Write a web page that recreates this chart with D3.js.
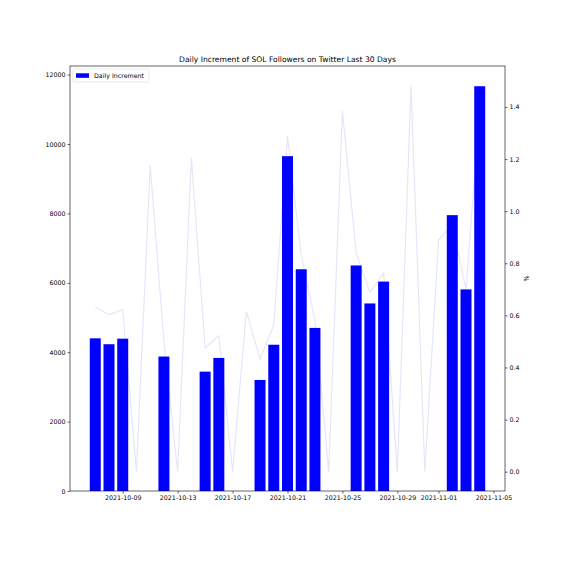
<!DOCTYPE html>
<html>
<head>
<meta charset="utf-8">
<script src="https://cdn.jsdelivr.net/npm/d3@7"></script>
<style>
	body {
		margin: 0;
		background: #fff;
	}
	text {
		font-family: 'DejaVu Sans', sans-serif;
		fill: #000;
	}
</style>
</head>
<body>
<div id="chart"></div>
<script>
const dates = [
	'2021-10-07', '2021-10-08', '2021-10-09', '2021-10-10', '2021-10-11',
	'2021-10-12', '2021-10-13', '2021-10-14', '2021-10-15', '2021-10-16',
	'2021-10-17', '2021-10-18', '2021-10-19', '2021-10-20', '2021-10-21',
	'2021-10-22', '2021-10-23', '2021-10-24', '2021-10-25', '2021-10-26',
	'2021-10-27', '2021-10-28', '2021-10-29', '2021-10-30', '2021-10-31',
	'2021-11-01', '2021-11-02', '2021-11-03', '2021-11-04'
]

const increments = [
	4400, 4230, 4390, 0, 0,
	3875, 0, 0, 3440, 3835,
	0, 0, 3200, 4215, 9650,
	6390, 4700, 0, 0, 6500,
	5405, 6035, 0, 0, 0,
	0, 7950, 5810, 11665
]

const percents = [
	0.632, 0.603, 0.622, 0, 1.175,
	0.5, 0, 1.204, 0.475, 0.522,
	0, 0.615, 0.432, 0.564, 1.288,
	0.83, 0.58, 0, 1.385, 0.84,
	0.688, 0.763, 0, 1.483, 0,
	0.888, 0.95, 0.7, 1.4
]

const xTicks = [
	'2021-10-09', '2021-10-13', '2021-10-17', '2021-10-21',
	'2021-10-25', '2021-10-29', '2021-11-01', '2021-11-05'
]
const leftTicks = [0, 2000, 4000, 6000, 8000, 10000, 12000]
const rightTicks = [0, 0.2, 0.4, 0.6, 0.8, 1.0, 1.2, 1.4]

const parseDate = d3.utcParse('%Y-%m-%d')
const DAY = 864e5

const data = dates.map((d, i) => ({
	date: parseDate(d),
	value: increments[i],
	pct: percents[i]
}))

const width = 561,
	height = 561
const margin = { top: 66, right: 56, bottom: 70, left: 70 }

const svg = d3
	.select('#chart')
	.append('svg')
	.attr('width', width)
	.attr('height', height)

// matplotlib style 5% padding around bars
const first = data[0].date.getTime() - 0.4 * DAY
const last = data[data.length - 1].date.getTime() + 0.4 * DAY
const pad = (last - first) * 0.05

const x = d3
	.scaleUtc()
	.domain([new Date(first - pad), new Date(last + pad)])
	.range([margin.left, width - margin.right])

const y = d3
	.scaleLinear()
	.domain([0, d3.max(increments) * 1.05])
	.range([height - margin.bottom, margin.top])

const pMin = d3.min(percents),
	pMax = d3.max(percents)
const pPad = (pMax - pMin) * 0.05
const y2 = d3
	.scaleLinear()
	.domain([pMin - pPad, pMax + pPad])
	.range([height - margin.bottom, margin.top])

const barW = x(new Date(data[0].date.getTime() + 0.8 * DAY)) - x(data[0].date)

// percent line sits behind the bars
const line = d3
	.line()
	.x(d => x(d.date))
	.y(d => y2(d.pct))

svg.append('path')
	.datum(data)
	.attr('d', line)
	.attr('fill', 'none')
	.attr('stroke', '#e6e6fa')
	.attr('stroke-width', 1.2)

svg.append('g')
	.selectAll('rect')
	.data(data.filter(d => d.value > 0))
	.enter()
	.append('rect')
	.attr('x', d => x(d.date) - barW / 2)
	.attr('y', d => y(d.value))
	.attr('width', barW)
	.attr('height', d => y(0) - y(d.value))
	.attr('fill', 'blue')

const xAxis = svg
	.append('g')
	.attr('transform', `translate(0,${height - margin.bottom})`)
	.call(
		d3
			.axisBottom(x)
			.tickValues(xTicks.map(parseDate))
			.tickFormat(d3.utcFormat('%Y-%m-%d'))
			.tickSizeOuter(0)
			.tickSize(2.5)
			.tickPadding(2)
	)

const yAxis = svg
	.append('g')
	.attr('transform', `translate(${margin.left},0)`)
	.call(
		d3
			.axisLeft(y)
			.tickValues(leftTicks)
			.tickFormat(d3.format('d'))
			.tickSizeOuter(0)
			.tickSize(2.5)
			.tickPadding(2)
	)

const y2Axis = svg
	.append('g')
	.attr('transform', `translate(${width - margin.right},0)`)
	.call(
		d3
			.axisRight(y2)
			.tickValues(rightTicks)
			.tickFormat(d3.format('.1f'))
			.tickSizeOuter(0)
			.tickSize(2.5)
			.tickPadding(2)
	)

;[xAxis, yAxis, y2Axis].forEach(g => {
	g.select('.domain').remove()
	g.selectAll('line').attr('stroke', '#000').attr('stroke-width', 0.6)
	g.selectAll('text').style('font-size', '6.3px').attr('fill', '#000')
})

// frame
svg.append('rect')
	.attr('x', margin.left)
	.attr('y', margin.top)
	.attr('width', width - margin.left - margin.right)
	.attr('height', height - margin.top - margin.bottom)
	.attr('fill', 'none')
	.attr('stroke', '#000')
	.attr('stroke-width', 0.6)

svg.append('text')
	.attr('x', (margin.left + width - margin.right) / 2)
	.attr('y', margin.top - 4)
	.attr('text-anchor', 'middle')
	.style('font-size', '7.6px')
	.text('Daily Increment of SOL Followers on Twitter Last 30 Days')

svg.append('text')
	.attr('transform', `translate(${width - margin.right + 19},${(margin.top + height - margin.bottom) / 2}) rotate(90)`)
	.attr('text-anchor', 'middle')
	.style('font-size', '6.3px')
	.text('%')

// legend
const legend = svg.append('g').attr('transform', `translate(${margin.left + 3},${margin.top + 3})`)
legend.append('rect')
	.attr('width', 76)
	.attr('height', 13)
	.attr('rx', 1.5)
	.attr('fill', '#fff')
	.attr('fill-opacity', 0.8)
	.attr('stroke', '#ddd')
	.attr('stroke-width', 0.6)
legend.append('rect')
	.attr('x', 3)
	.attr('y', 4.3)
	.attr('width', 13)
	.attr('height', 4.5)
	.attr('fill', 'blue')
legend.append('text')
	.attr('x', 21)
	.attr('y', 8.8)
	.style('font-size', '6.3px')
	.text('Daily Increment')
</script>
</body>
</html>
